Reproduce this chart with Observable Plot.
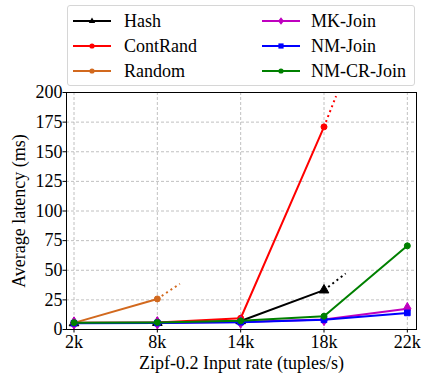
<!DOCTYPE html>
<html>
<head>
<meta charset="utf-8">
<script src="https://cdn.jsdelivr.net/npm/d3@7"></script>
<script src="https://cdn.jsdelivr.net/npm/@observablehq/plot@0.6"></script>
<style>
  body { margin: 0; background: #fff; }
  #wrap { position: relative; width: 422px; height: 377px; font-family: 'Liberation Serif'; }
  #chart { position: absolute; left: 0; top: 0; }
  #legend { position: absolute; left: 67px; top: 5px; width: 348px; height: 81px; box-sizing: border-box;
            border: 1px solid #d6d6d6; border-radius: 3px; background: rgba(255,255,255,0.85); }
  .swatch { position: absolute; }
  .name { position: absolute; font-family: 'Liberation Serif'; font-size: 18px; line-height: 20px; color: #000; white-space: nowrap; }
</style>
</head>
<body>
<div id="wrap">
  <div id="chart"></div>
  <div id="legend"></div>
</div>
<script>
// Input rates on the x axis
const rates = ["2k", "8k", "14k", "18k", "22k"];

// Series, in drawing order
const seriesNames = ["Hash", "ContRand", "Random", "MK-Join", "NM-Join", "NM-CR-Join"];
const seriesColors = ["#000000", "#ff0000", "#d2691e", "#bf00bf", "#0000ff", "#008000"];
const seriesSymbols = ["triangle", "circle", "circle", "diamond", "square", "circle"];

// Average latency (ms) per input rate
const hash = [5.5, 5.8, 7.2, 33.2];
const contRand = [5.6, 5.9, 9.5, 171];
const random = [5.6, 25.8];
const mkJoin = [5.4, 5.6, 6.3, 8.5, 17.5];
const nmJoin = [5.3, 5.5, 6.2, 8.2, 14.0];
const nmCrJoin = [5.8, 6.0, 7.3, 11.2, 70.6];

// Dotted trend after the last sustainable rate: [position on the rate axis, latency]
const hashTrend = [3.26, 47.3];
const contRandTrend = [3.145, 197];
const randomTrend = [1.27, 38.6];

const yTicks = [0, 25, 50, 75, 100, 125, 150, 175, 200];

const values = [hash, contRand, random, mkJoin, nmJoin, nmCrJoin];
const trends = [hashTrend, contRandTrend, randomTrend, null, null, null];

const points = seriesNames.flatMap((s, k) => values[k].map((v, i) => ({series: s, x: i, y: v})));
const trendSegs = seriesNames.flatMap((s, k) => {
  const t = trends[k];
  if (!t) return [];
  const last = values[k].length - 1;
  return [{series: s, x: last, y: values[k][last]}, {series: s, x: t[0], y: t[1]}];
});

const symSize = {"triangle": 3.6, "circle": 3, "diamond": 3.8, "square": 3.2};

const seriesMarks = seriesNames.flatMap((s, k) => {
  const pts = points.filter(d => d.series === s);
  const tr = trendSegs.filter(d => d.series === s);
  const marks = [
    Plot.line(pts, {x: "x", y: "y", stroke: seriesColors[k], strokeWidth: 2})
  ];
  if (tr.length) {
    marks.push(Plot.line(tr, {x: "x", y: "y", stroke: seriesColors[k], strokeWidth: 2,
      strokeDasharray: "2,3.3", strokeLinecap: "butt"}));
  }
  marks.push(Plot.dot(pts, {x: "x", y: "y", fill: seriesColors[k], stroke: seriesColors[k],
    symbol: () => seriesSymbols[k], r: symSize[seriesSymbols[k]], strokeWidth: 1}));
  return marks;
});

const chart = Plot.plot({
  width: 422,
  height: 377,
  marginLeft: 66,
  marginRight: 6,
  marginTop: 92,
  marginBottom: 48,
  style: {fontFamily: "'Liberation Serif'", fontSize: "18px", background: "transparent", color: "#000"},
  x: {type: "linear", domain: [-0.09, 4.11]},
  y: {domain: [0, 200]},
  marks: [
    Plot.ruleX([0, 1, 2, 3, 4], {stroke: "#b0b0b0", strokeWidth: 0.8, strokeDasharray: "3,2"}),
    Plot.ruleY(yTicks.slice(1, -1), {stroke: "#b0b0b0", strokeWidth: 0.8, strokeDasharray: "3,2"}),
    Plot.axisX({ticks: [0, 1, 2, 3, 4], tickFormat: i => rates[i], tickSize: 3.5, tickPadding: 2,
      label: "Zipf-0.2 Input rate (tuples/s)", labelAnchor: "center", labelArrow: "none", labelOffset: 39}),
    Plot.axisY({ticks: yTicks, tickSize: 3.5, tickPadding: 0.5,
      label: "Average latency (ms)", labelAnchor: "center", labelArrow: "none", labelOffset: 54}),
    ...seriesMarks,
    Plot.frame({stroke: "#000", strokeWidth: 1})
  ]
});
document.getElementById("chart").appendChild(chart);

// Legend: two columns of three entries
const legend = document.getElementById("legend");
const symbolPaths = {
  triangle: "M0,-3.6L3.2,2L-3.2,2Z",
  diamond: "M0,-3.8L3,0L0,3.8L-3,0Z",
  square: "M-2.6,-2.6H2.6V2.6H-2.6Z",
  circle: "M2.6,0A2.6,2.6,0,1,1,-2.6,0A2.6,2.6,0,1,1,2.6,0"
};
seriesNames.forEach((s, k) => {
  const col = Math.floor(k / 3), row = k % 3;
  const cy = [15, 39.5, 64.5][row];
  const sx = col === 0 ? 5 : 194;
  const tx = col === 0 ? 56 : 243;
  const sw = document.createElementNS("http://www.w3.org/2000/svg", "svg");
  sw.setAttribute("class", "swatch");
  sw.setAttribute("width", 38);
  sw.setAttribute("height", 12);
  sw.style.left = sx + "px";
  sw.style.top = (cy - 6) + "px";
  sw.innerHTML = `<line x1="0" x2="38" y1="6" y2="6" stroke="${seriesColors[k]}" stroke-width="2"/>` +
    `<path transform="translate(19,6)" d="${symbolPaths[seriesSymbols[k]]}" fill="${seriesColors[k]}"/>`;
  legend.appendChild(sw);
  const t = document.createElement("div");
  t.className = "name";
  t.textContent = s;
  t.style.left = tx + "px";
  t.style.top = (cy - 10) + "px";
  legend.appendChild(t);
});
</script>
</body>
</html>
